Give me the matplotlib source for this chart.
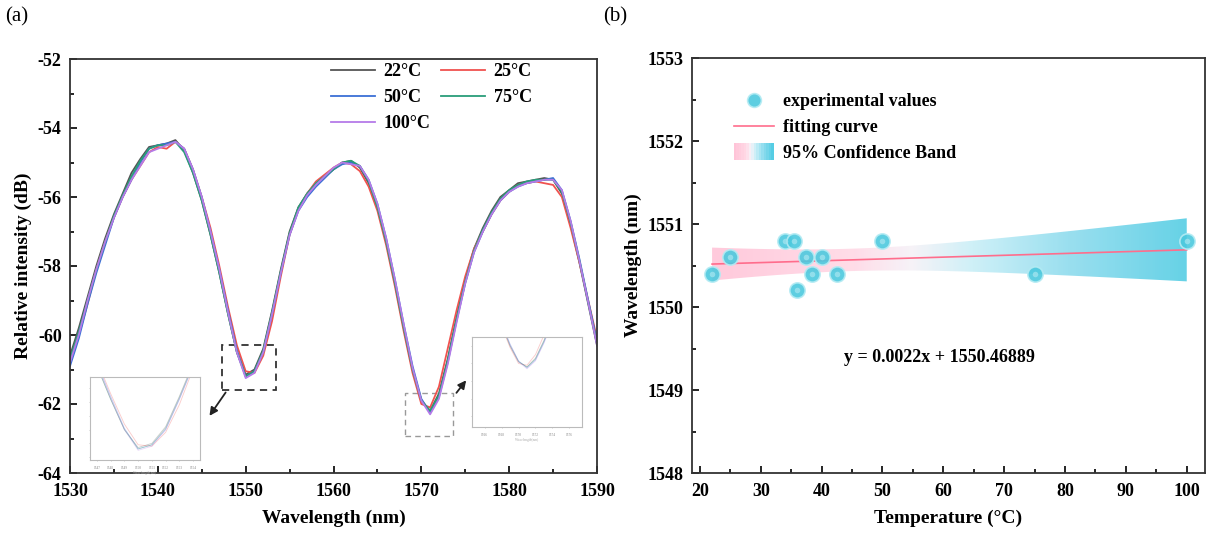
import numpy as np
import matplotlib
matplotlib.use("Agg")
import matplotlib.pyplot as plt
from matplotlib.colors import LinearSegmentedColormap
from matplotlib.patches import Rectangle
from matplotlib.legend_handler import HandlerBase
from matplotlib.ticker import MultipleLocator

plt.rcParams['font.family'] = ['Liberation Serif', 'DejaVu Serif']
plt.rcParams['font.weight'] = 'bold'
plt.rcParams['axes.unicode_minus'] = False

# ---- data, panel (a): spectra ----
wl = np.arange(1530, 1591, 1.0)
temps = ['22°C', '25°C', '50°C', '75°C', '100°C']
colors = ['#555555', '#f0524f', '#3b6fd6', '#2a9d7a', '#b57be8']

I22 = [-60.6, -59.8, -58.9, -58.0, -57.2, -56.5, -55.9, -55.3, -54.9, -54.55,
       -54.5, -54.45, -54.35, -54.65, -55.3, -56.1, -57.1, -58.2, -59.4, -60.5,
       -61.15, -61.0, -60.4, -59.3, -58.1, -57.0, -56.3, -55.9, -55.6, -55.4,
       -55.2, -55.0, -54.95, -55.15, -55.6, -56.3, -57.3, -58.5, -59.8, -61.0,
       -61.9, -62.2, -61.7, -60.7, -59.5, -58.4, -57.5, -56.9, -56.4, -56.0,
       -55.8, -55.6, -55.55, -55.5, -55.45, -55.5, -55.9, -56.8, -57.9, -59.1,
       -60.3]
I25 = [-60.8, -60.0, -59.1, -58.1, -57.3, -56.6, -56.0, -55.5, -55.1, -54.7,
       -54.55, -54.6, -54.4, -54.6, -55.2, -56.0, -56.9, -58.0, -59.2, -60.3,
       -61.05, -61.1, -60.6, -59.6, -58.3, -57.1, -56.35, -55.9, -55.55, -55.35,
       -55.15, -55.0, -55.05, -55.25, -55.7, -56.4, -57.4, -58.6, -59.9, -61.1,
       -62.0, -62.1, -61.5, -60.4, -59.3, -58.3, -57.5, -57.0, -56.5, -56.1,
       -55.85, -55.65, -55.6, -55.55, -55.6, -55.65, -56.0, -56.9, -57.9, -59.0,
       -60.1]
I50 = [-60.9, -60.1, -59.1, -58.2, -57.4, -56.6, -56.0, -55.5, -55.0, -54.6,
       -54.5, -54.45, -54.4, -54.6, -55.2, -56.0, -57.0, -58.1, -59.3, -60.45,
       -61.2, -61.05, -60.5, -59.4, -58.2, -57.1, -56.4, -56.0, -55.7, -55.45,
       -55.2, -55.05, -55.0, -55.1, -55.5, -56.2, -57.2, -58.4, -59.7, -60.9,
       -61.85, -62.25, -61.8, -60.8, -59.6, -58.5, -57.6, -57.0, -56.5, -56.1,
       -55.85, -55.7, -55.6, -55.55, -55.5, -55.45, -55.8, -56.7, -57.8, -59.0,
       -60.2]
I75 = [-60.7, -59.9, -59.0, -58.1, -57.3, -56.55, -55.95, -55.4, -54.95, -54.6,
       -54.5, -54.5, -54.4, -54.7, -55.3, -56.1, -57.1, -58.2, -59.4, -60.5,
       -61.2, -61.05, -60.45, -59.35, -58.15, -57.05, -56.3, -55.9, -55.6, -55.4,
       -55.2, -55.0, -54.95, -55.1, -55.55, -56.3, -57.3, -58.5, -59.8, -61.0,
       -61.9, -62.2, -61.75, -60.75, -59.55, -58.45, -57.55, -56.95, -56.45, -56.05,
       -55.8, -55.65, -55.55, -55.5, -55.5, -55.5, -55.85, -56.75, -57.85, -59.05,
       -60.25]
I100 = [-60.8, -60.0, -59.0, -58.1, -57.3, -56.6, -56.0, -55.5, -55.1, -54.7,
        -54.6, -54.5, -54.4, -54.6, -55.2, -56.0, -57.0, -58.1, -59.35, -60.5,
        -61.25, -61.1, -60.5, -59.4, -58.2, -57.1, -56.4, -55.95, -55.65, -55.4,
        -55.15, -55.0, -55.05, -55.1, -55.5, -56.2, -57.2, -58.4, -59.7, -60.95,
        -61.9, -62.3, -61.85, -60.85, -59.65, -58.5, -57.6, -57.0, -56.5, -56.1,
        -55.85, -55.7, -55.6, -55.55, -55.5, -55.5, -55.8, -56.7, -57.85, -59.05,
        -60.3]
spectra = [I22, I25, I50, I75, I100]

# ---- data, panel (b): dip wavelength vs temperature ----
T = [22, 25, 34, 35.5, 36, 37.5, 38.5, 40, 42.5, 50, 75, 100]
lam = [1550.4, 1550.6, 1550.8, 1550.8, 1550.2, 1550.6, 1550.4, 1550.6, 1550.4,
       1550.8, 1550.4, 1550.8]
slope, icpt = 0.0022, 1550.46889

W, H = 1207, 534
fig = plt.figure(figsize=(W / 100, H / 100), dpi=100)
ax1 = fig.add_axes([70 / W, 1 - 473 / H, 527 / W, 414 / H])
ax2 = fig.add_axes([692 / W, 1 - 473 / H, 513 / W, 415 / H])

for ax in (ax1, ax2):
    ax.tick_params(which='both', direction='in', labelsize=13, width=1.2)
    ax.tick_params(which='major', length=5)
    ax.tick_params(which='minor', length=3)
    ax.tick_params(axis='x', pad=7)
    ax.tick_params(axis='y', pad=6)
    for s in ax.spines.values():
        s.set_linewidth(1.3)
        s.set_color('#333333')

# ---- panel (a) ----
lines = []
for y, c, lab in zip(spectra, colors, temps):
    ln, = ax1.plot(wl, y, color=c, lw=1.3, label=lab)
    lines.append(ln)
ax1.set_xlim(1530, 1590)
ax1.set_ylim(-64, -52)
ax1.xaxis.set_major_locator(MultipleLocator(10))
ax1.xaxis.set_minor_locator(MultipleLocator(5))
ax1.yaxis.set_major_locator(MultipleLocator(2))
ax1.yaxis.set_minor_locator(MultipleLocator(1))
ax1.set_xlabel('Wavelength (nm)', fontsize=14, fontweight='bold', labelpad=7)
ax1.set_ylabel('Relative intensity (dB)', fontsize=14, fontweight='bold', labelpad=4)
order = [0, 2, 4, 1, 3]
ax1.legend([lines[i] for i in order], [temps[i] for i in order],
           loc='upper left', bbox_to_anchor=(0.465, 1.03), ncol=2, frameon=False,
           fontsize=13, handlelength=2.4, columnspacing=0.6, labelspacing=0.5,
           handletextpad=0.5)

# dashed zoom boxes and arrows
ax1.add_patch(Rectangle((1547.3, -61.59), 6.15, 1.3, fill=False, ls=(0, (4, 3)),
                        lw=1.3, ec='#333333'))
ax1.add_patch(Rectangle((1568.1, -62.93), 5.5, 1.25, fill=False, ls=(0, (4, 3)),
                        lw=1.0, ec='#999999'))
ax1.annotate('', xy=(1545.7, -62.41), xytext=(1547.9, -61.6),
             arrowprops=dict(arrowstyle='-|>', color='#222222', lw=1.3, mutation_scale=12))
ax1.annotate('', xy=(1575.3, -61.25), xytext=(1573.8, -61.74),
             arrowprops=dict(arrowstyle='-|>', color='#222222', lw=1.3, mutation_scale=12))

# insets (faded views of the dips)
def inset(rect, xl, yl):
    a = fig.add_axes(rect)
    for y, c in zip(spectra, colors):
        a.plot(wl, y, color=c, lw=0.6, alpha=0.3)
    a.set_xlim(*xl)
    a.set_ylim(*yl)
    a.tick_params(labelsize=2.5, length=1, width=0.4, colors='#aaaaaa', labelleft=False)
    a.set_xlabel('Wavelength(nm)', fontsize=2.5, color='#aaaaaa', labelpad=0.5)
    for s in a.spines.values():
        s.set_color('#bbbbbb')
        s.set_linewidth(0.8)
    return a

inset([90 / W, 1 - 460 / H, 110 / W, 83 / H], (1546.5, 1554.5), (-61.6, -58.6))
inset([472 / W, 1 - 427 / H, 110 / W, 90 / H], (1564.5, 1577.5), (-65.6, -60.5))

# ---- panel (b) ----
T_a = np.array(T)
lam_a = np.array(lam)
n = len(T_a)
xf = np.linspace(min(T), max(T), 200)
yf = slope * xf + icpt
res = lam_a - (slope * T_a + icpt)
s_err = np.sqrt(np.sum(res ** 2) / (n - 2))
sxx = np.sum((T_a - T_a.mean()) ** 2)
half = 2.228 * s_err * np.sqrt(1 / n + (xf - T_a.mean()) ** 2 / sxx)

band_cmap = LinearSegmentedColormap.from_list(
    'band', [(0.0, '#ffc4d8'), (0.3, '#ffd9e6'), (0.42, '#f6f2f8'),
             (0.55, '#c9eff7'), (0.75, '#8fdcee'), (1.0, '#55cde4')])

poly = ax2.fill_between(xf, yf - half, yf + half, color='none', lw=0)
grad = np.linspace(0, 1, 256).reshape(1, -1)
img = ax2.imshow(grad, cmap=band_cmap, aspect='auto', extent=(min(T), max(T), 1548, 1553),
                 origin='lower', zorder=1, alpha=0.9)
img.set_clip_path(poly.get_paths()[0], transform=ax2.transData)
ax2.set_xlim(18.7, 103)
ax2.set_ylim(1548, 1553)

ax2.plot(xf, yf, color='#ff6d8c', lw=1.2, zorder=3, label='fitting curve')
ax2.plot(T, lam, 'o', ms=11, color='#4cc9de', mec='#b4ebf3', mew=1.2, alpha=0.9,
         zorder=4, label='experimental values')
ax2.plot(T, lam, 'o', ms=4, color='#9fe3ee', mec='none', alpha=0.8, zorder=5)

ax2.xaxis.set_major_locator(MultipleLocator(10))
ax2.xaxis.set_minor_locator(MultipleLocator(5))
ax2.yaxis.set_major_locator(MultipleLocator(1))
ax2.yaxis.set_minor_locator(MultipleLocator(0.5))
ax2.set_xlabel('Temperature (°C)', fontsize=14, fontweight='bold', labelpad=7)
ax2.set_ylabel('Wavelength (nm)', fontsize=14, fontweight='bold', labelpad=4)


class GradHandler(HandlerBase):
    def create_artists(self, legend, orig, xd, yd, w, h, fs, trans):
        arts = []
        k = 16
        for i in range(k):
            arts.append(Rectangle((xd + w * i / k, yd - 0.15 * h), w / k + 0.3, 1.3 * h,
                                  facecolor=band_cmap(i / (k - 1)), edgecolor='none',
                                  transform=trans))
        return arts


hs, ls = ax2.get_legend_handles_labels()
band_proxy = Rectangle((0, 0), 1, 1)
ax2.legend([hs[1], hs[0], band_proxy],
           ['experimental values', 'fitting curve', '95% Confidence Band'],
           handler_map={band_proxy: GradHandler()}, loc='upper left',
           bbox_to_anchor=(0.05, 0.955), frameon=False, fontsize=13,
           handlelength=2.2, labelspacing=0.5, handletextpad=0.5, markerscale=0.9)

ax2.text(59.3, 1549.39, 'y = 0.0022x + 1550.46889', fontsize=13, fontweight='bold',
         ha='center', va='center')

fig.text(5 / W, 1 - 17 / H, '(a)', fontsize=15, fontweight='normal', va='center')
fig.text(603 / W, 1 - 17 / H, '(b)', fontsize=15, fontweight='normal', va='center')

fig.savefig('out.png', dpi=100, facecolor='white')
